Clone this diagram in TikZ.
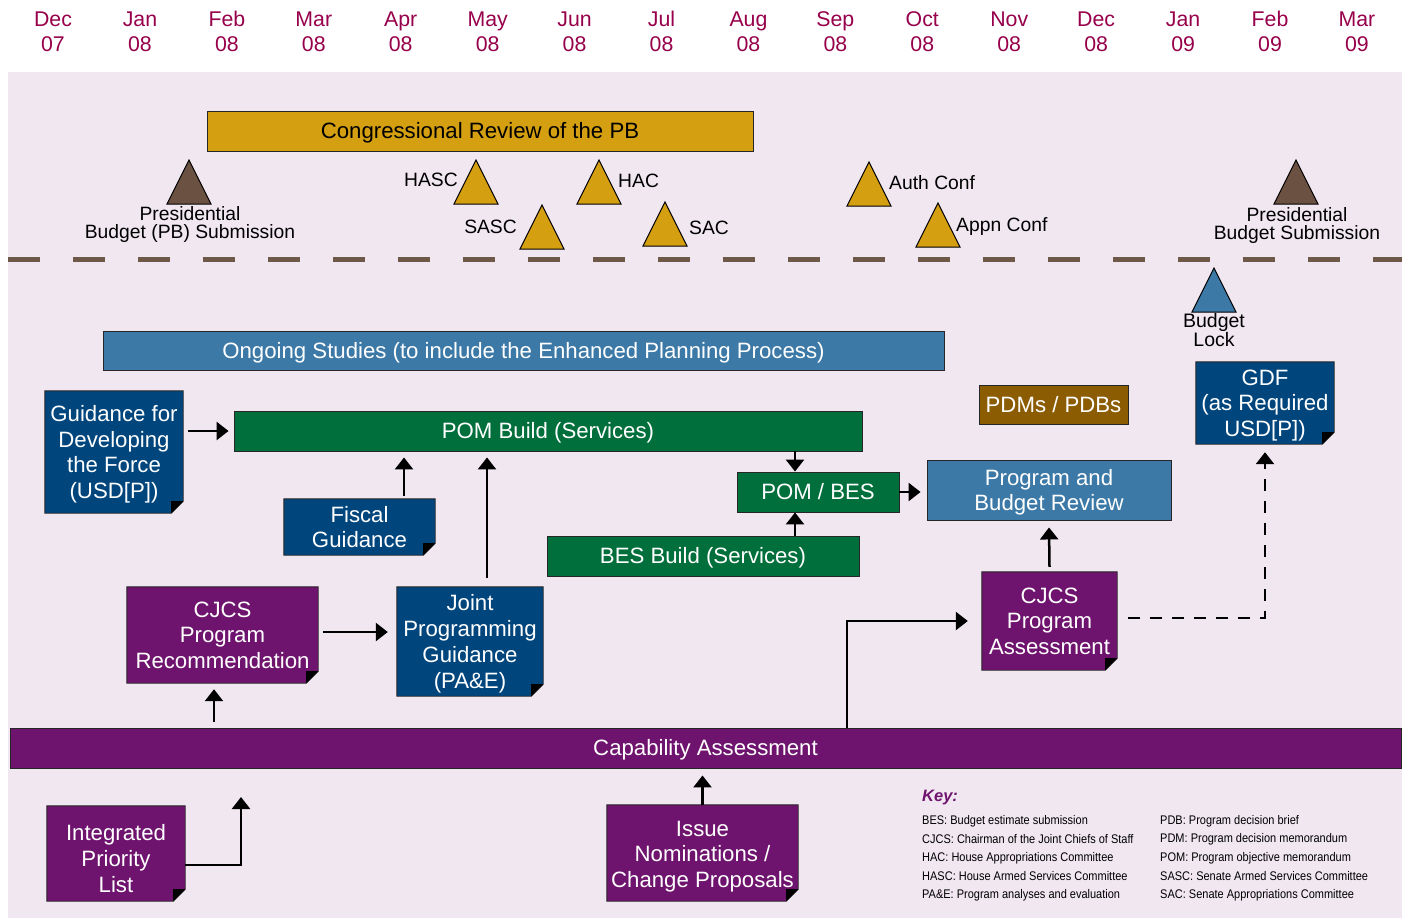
\documentclass[tikz,border=0pt]{standalone}
\usepackage{fontspec}
\setmainfont{Liberation Sans}
\newfontfamily\keyfont[FakeStretch=0.88]{Liberation Sans}
\usetikzlibrary{arrows.meta,calc}
\pgfdeclarelayer{bgbg}\pgfdeclarelayer{bg}\pgfsetlayers{bgbg,bg,main}
\definecolor{monthc}{RGB}{151,0,75}
\definecolor{pinkbg}{RGB}{241,231,241}
\definecolor{goldc}{RGB}{213,159,18}
\definecolor{brownc}{RGB}{107,81,65}
\definecolor{dashc}{RGB}{110,88,72}
\definecolor{steelc}{RGB}{60,121,166}
\definecolor{navyc}{RGB}{0,70,125}
\definecolor{greenc}{RGB}{0,111,59}
\definecolor{purplec}{RGB}{111,20,110}
\definecolor{pdmc}{RGB}{140,92,3}
\definecolor{keyc}{RGB}{111,20,110}
\newcommand\bt[2][2.8pt]{\raisebox{-#1}[\height][\depth]{\begin{tabular}{@{}c@{}}#2\end{tabular}}}
\newcommand\foldshape[2]{%
  \begin{pgfonlayer}{bg}
    \filldraw[fill=#2,draw=black!85,line width=0.9pt]
      (#1.north west) -- (#1.north east) -- ([yshift=12pt]#1.south east)
      -- ([xshift=-12pt]#1.south east) -- (#1.south west) -- cycle;
    \fill[black] ([xshift=-12pt,yshift=12pt]#1.south east) -- ([yshift=12pt]#1.south east)
      -- ([xshift=-12pt]#1.south east) -- cycle;
  \end{pgfonlayer}}
\newcommand\marker[3]{\filldraw[fill=#1,draw=black,line width=1pt,line join=miter] (#2,#3) -- ++(22,44) -- ++(-44,0) -- cycle;}
\begin{document}
\begin{tikzpicture}[x=1pt,y=-1pt,
  month/.style={text=monthc,align=center,font=\fontsize{21.3}{25}\selectfont,inner sep=0pt},
  box/.style={draw=black!85,line width=0.9pt,text=white,inner sep=0pt,font=\fontsize{22.2}{25.7}\selectfont},
  fbox/.style={draw=none,text=white,inner sep=0pt,font=\fontsize{22.2}{25.7}\selectfont},
  lbl/.style={align=center,inner sep=0pt,font=\fontsize{19.3}{18}\selectfont},
  keyitem/.style={anchor=west,inner sep=0pt,font=\keyfont\fontsize{12.5}{14}\selectfont},
  arr/.style={line width=2.5pt,-{Triangle[length=12pt,width=18pt]}},
  darr/.style={line width=2.5pt,dash pattern=on 12pt off 10pt,-{Triangle[length=12pt,width=18pt]}}]
\useasboundingbox (0,0) rectangle (1407,918);
\begin{pgfonlayer}{bgbg}
  \fill[white] (0,0) rectangle (1407,918);
  \fill[pinkbg] (8,72) rectangle (1402,918);
  \draw[dashc,line width=5pt,dash pattern=on 32pt off 33pt] (8,259) -- (1402,259);
\end{pgfonlayer}
% months
\foreach \m/\yy [count=\i from 0] in {Dec/07,Jan/08,Feb/08,Mar/08,Apr/08,May/08,Jun/08,Jul/08,Aug/08,Sep/08,Oct/08,Nov/08,Dec/08,Jan/09,Feb/09,Mar/09}
  \node[month] (m\i) at ({53+86.93*\i},31.5) {\m\\\yy};
% congressional review
\node[box,fill=goldc,text=black,minimum width=546pt,minimum height=40pt] (cong) at (480,131) {\bt{Congressional Review of the PB}};
% markers
\marker{brownc}{189}{160}
\node[lbl] (pb1) at (190,225) {Presidential\\Budget (PB) Submission};
\marker{brownc}{1296}{160}
\node[lbl] (pb2) at (1297,226) {Presidential\\Budget Submission};
\marker{goldc}{476}{160}
\node[lbl,anchor=east] (hasc) at (458,180) {HASC};
\marker{goldc}{542}{205}
\node[lbl,anchor=east] (sasc) at (517,227) {SASC};
\marker{goldc}{599}{160}
\node[lbl,anchor=west] (hac) at (618,181) {HAC};
\marker{goldc}{665}{202}
\node[lbl,anchor=west] (sac) at (689,228) {SAC};
\marker{goldc}{869}{162}
\node[lbl,anchor=west] (auth) at (889,183) {Auth Conf};
\marker{goldc}{938}{203}
\node[lbl,anchor=west] (appn) at (956,227) {Appn Conf};
\marker{steelc}{1214}{268}
\node[lbl,font=\fontsize{19.5}{19}\selectfont] (lock) at (1214,330.5) {Budget\\Lock};
% boxes
\node[box,fill=steelc,minimum width=841pt,minimum height=39pt] (ongo) at (523.5,350.5) {\bt{Ongoing Studies (to include the Enhanced Planning Process)}};
\node[fbox,minimum width=138pt,minimum height=122pt] (gdf1) at (114,452) {\bt{Guidance for\\Developing\\the Force\\(USD[P])}};
\foldshape{gdf1}{navyc}
\node[box,fill=greenc,minimum width=628pt,minimum height=40pt] (pom) at (548,431) {\bt{POM Build (Services)}};
\node[fbox,minimum width=151pt,minimum height=56pt] (fisc) at (359.5,527) {\bt{Fiscal\\Guidance}};
\foldshape{fisc}{navyc}
\node[fbox,minimum width=146pt,minimum height=109pt] (jpg) at (470,641.5) {\bt{Joint\\Programming\\Guidance\\(PA\&E)}};
\foldshape{jpg}{navyc}
\node[fbox,minimum width=191pt,minimum height=96pt] (crec) at (222.5,635) {\bt{CJCS\\Program\\Recommendation}};
\foldshape{crec}{purplec}
\node[box,fill=purplec,minimum width=1391pt,minimum height=40pt] (cap) at (705.5,748) {\bt{Capability Assessment}};
\node[fbox,minimum width=138pt,minimum height=95pt] (ipl) at (116,853.5) {\bt[8pt]{Integrated\\Priority\\List}};
\foldshape{ipl}{purplec}
\node[fbox,minimum width=191pt,minimum height=96pt] (issue) at (702.5,853) {\bt[3.8pt]{Issue\\Nominations /\\Change Proposals}};
\foldshape{issue}{purplec}
\node[box,fill=greenc,minimum width=162pt,minimum height=40pt] (pombes) at (818,492) {\bt{POM / BES}};
\node[box,fill=greenc,minimum width=312pt,minimum height=40pt] (bes) at (703,556) {\bt{BES Build (Services)}};
\node[box,fill=steelc,minimum width=244pt,minimum height=60pt] (pbr) at (1049,490) {\bt{Program and\\Budget Review}};
\node[fbox,minimum width=135pt,minimum height=98pt] (cass) at (1049.5,621) {\bt{CJCS\\Program\\Assessment}};
\foldshape{cass}{purplec}
\node[fbox,minimum width=138pt,minimum height=82pt] (gdf2) at (1265,403) {\bt{GDF\\(as Required\\USD[P])}};
\foldshape{gdf2}{navyc}
\node[box,fill=pdmc,minimum width=149pt,minimum height=39pt] (pdm) at (1053.5,404.5) {\bt{PDMs / PDBs}};
% connectors
\draw[arr] ([xshift=5pt]gdf1.east |- pom.west) -- ([xshift=-5pt]pom.west);
\draw[arr] ([xshift=44.5pt,yshift=3pt]fisc.north) -- ([xshift=44.5pt,yshift=-6pt]fisc.north |- pom.south);
\draw[arr] ([xshift=17pt,yshift=9pt]jpg.north) -- ([xshift=17pt,yshift=-6pt]jpg.north |- pom.south);
\draw[arr] ([xshift=5pt,yshift=3pt]crec.east) -- ([xshift=-9pt,yshift=3pt]crec.east -| jpg.west);
\draw[arr] ([xshift=-8.5pt,yshift=6pt]crec.south |- cap.north) -- ([xshift=-8.5pt,yshift=-6pt]crec.south);
\coordinate (iplend) at (241,797);
\draw[arr] ([yshift=-11.5pt]ipl.east) -| (iplend);
\draw[arr] (issue.north) -- ([yshift=-7pt]issue.north |- cap.south);
\draw[arr] ([xshift=-23pt]pombes.north |- pom.south) -- ([xshift=-23pt]pombes.north);
\draw[arr] ([xshift=-23pt]pombes.south |- bes.north) -- ([xshift=-23pt]pombes.south);
\draw[arr] (pombes.east) -- ([xshift=-6pt]pbr.west |- pombes.east);
\draw[arr] ([yshift=5pt]cass.north) -- ([yshift=-7pt]pbr.south);
\draw[arr] ([xshift=141.5pt]cap.north) |- ([xshift=-14pt]cass.west);
\draw[darr] ([xshift=11pt,yshift=3pt]cass.east) -| ([yshift=-8pt]gdf2.south);
% key
\node[anchor=west,inner sep=0pt,text=keyc,font=\fontsize{16.5}{16}\selectfont\bfseries\itshape] (key) at (922,798) {Key:};
\foreach \t [count=\i from 0] in {BES: Budget estimate submission,CJCS: Chairman of the Joint Chiefs of Staff,HAC: House Appropriations Committee,HASC: House Armed Services Committee,PA\&E: Program analyses and evaluation}
  \node[keyitem] (kl\i) at (922,{821+18.5*\i}) {\t};
\foreach \t [count=\i from 0] in {PDB: Program decision brief,PDM: Program decision memorandum,POM: Program objective memorandum,SASC: Senate Armed Services Committee,SAC: Senate Appropriations Committee}
  \node[keyitem] (kr\i) at (1160,{821+18.5*\i}) {\t};
\end{tikzpicture}
\end{document}
